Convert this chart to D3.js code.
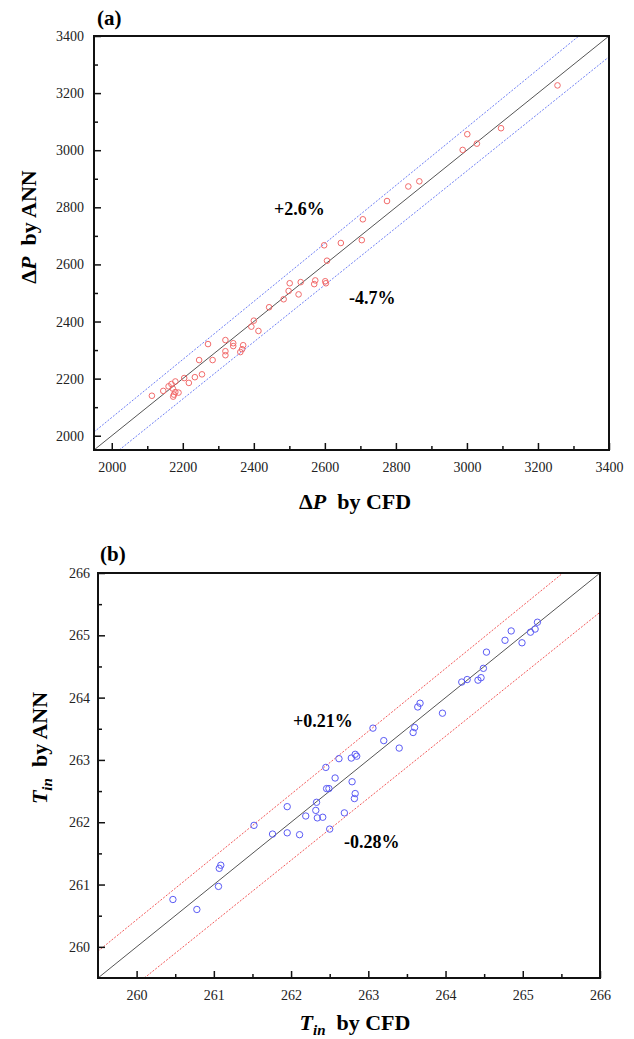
<!DOCTYPE html>
<html><head><meta charset="utf-8">
<script src="https://cdn.jsdelivr.net/npm/d3@7"></script>
<style>
body{margin:0;background:#fff;}
svg{display:block;}
</style></head>
<body>
<svg id="chart" width="634" height="1039"></svg>
<script>
// ---------- Panel (a): pressure drop ----------
const aCFD = [2113,2145,2160,2168,2179,2172,2179,2173,2175,2188,2204,2217,2234,2254,2246,2271,2284,2320,2320,2320,2342,2342,2370,2367,2362,2393,2400,2413,2443,2484,2498,2501,2526,2532,2570,2573,2601,2603,2598,2606,2645,2704,2707,2775,2835,2866,2988,3001,3028,3096,3255];
const aANN = [2140,2157,2173,2181,2190,2165,2153,2137,2144,2151,2202,2185,2205,2215,2265,2321,2265,2335,2296,2282,2324,2314,2317,2303,2293,2382,2403,2367,2450,2478,2507,2534,2495,2538,2531,2544,2541,2534,2667,2613,2675,2685,2758,2822,2873,2891,3001,3056,3023,3077,3227];
const aDomain = [1950, 3400];
const aMajor = [2000,2200,2400,2600,2800,3000,3200,3400];
const aMinor = [2100,2300,2500,2700,2900,3100,3300];
const aUpperX = [1950, 3315], aUpperY = [2013, 3400];
const aLowerX = [2021, 3400], aLowerY = [1950, 3327];
const aDiagX = [1950, 3400], aDiagY = [1950, 3400];

// ---------- Panel (b): inlet temperature ----------
const bCFD = [260.47,260.78,261.06,261.07,261.09,261.52,261.76,261.95,261.95,262.11,262.19,262.32,262.33,262.34,262.41,262.46,262.49,262.45,262.50,262.57,262.62,262.69,262.78,262.79,262.82,262.83,262.83,262.85,263.06,263.20,263.40,263.58,263.60,263.64,263.67,263.96,264.21,264.28,264.42,264.46,264.49,264.53,264.77,264.85,264.99,265.10,265.16,265.19];
const bANN = [260.76,260.60,260.97,261.26,261.31,261.95,261.81,261.83,262.25,261.80,262.10,262.19,262.32,262.07,262.08,262.54,262.54,262.88,261.89,262.71,263.02,262.15,263.03,262.65,262.38,262.46,263.09,263.06,263.51,263.31,263.19,263.44,263.52,263.85,263.91,263.75,264.25,264.29,264.28,264.32,264.47,264.73,264.92,265.07,264.88,265.05,265.10,265.21];
const bDomain = [259.5, 266];
const bMajor = [260,261,262,263,264,265,266];
const bMinor = [260.5,261.5,262.5,263.5,264.5,265.5];
const bUpperX = [259.5, 265.52], bUpperY = [259.93, 266];
const bLowerX = [260.1, 266], bLowerY = [259.5, 265.37];
const bDiagX = [259.5, 266], bDiagY = [259.5, 266];

const FONT = "Liberation Serif, Times New Roman, Times, serif";
const svg = d3.select("#chart");
svg.append("rect").attr("width",634).attr("height",1039).attr("fill","#fff");

function panel(o){
  const g = svg.append("g").attr("font-family", FONT);
  const x = d3.scaleLinear().domain(o.domain).range([o.left, o.right]);
  const y = d3.scaleLinear().domain(o.domain).range([o.bottom, o.top]);
  const line = d3.line().x(d=>x(d[0])).y(d=>y(d[1]));
  const zipL = (xs, ys) => xs.map((v,i)=>[v, ys[i]]);

  g.append("path").attr("d", line(zipL(o.diagX,o.diagY)))
    .attr("fill","none").attr("stroke","#555").attr("stroke-width",1);
  [[o.upX,o.upY],[o.loX,o.loY]].forEach(([xs,ys])=>{
    g.append("path").attr("d", line(zipL(xs,ys)))
      .attr("fill","none").attr("stroke",o.bandColor).attr("stroke-width",1)
      .attr("stroke-dasharray","2,1.5");
  });

  g.selectAll("circle.pt").data(o.xs.map((v,i)=>[v,o.ys[i]])).enter()
    .append("circle").attr("class","pt")
    .attr("cx",d=>x(d[0])).attr("cy",d=>y(d[1])).attr("r",o.r)
    .attr("fill","none").attr("stroke",o.ptColor).attr("stroke-width",1);

  const xa = g.append("g").attr("transform",`translate(0,${o.bottom})`)
    .call(d3.axisBottom(x).tickValues(o.major).tickSize(-7).tickPadding(o.xPad).tickFormat(d3.format("d")));
  const xm = g.append("g").attr("transform",`translate(0,${o.bottom})`)
    .call(d3.axisBottom(x).tickValues(o.minor).tickSize(-4).tickFormat(""));
  const ya = g.append("g").attr("transform",`translate(${o.left},0)`)
    .call(d3.axisLeft(y).tickValues(o.major).tickSize(-7).tickPadding(o.yPad).tickFormat(d3.format("d")));
  const ym = g.append("g").attr("transform",`translate(${o.left},0)`)
    .call(d3.axisLeft(y).tickValues(o.minor).tickSize(-4).tickFormat(""));
  [xa,xm,ya,ym].forEach(a=>{
    a.attr("font-family", FONT).attr("font-size",14);
    a.select(".domain").remove();
    a.selectAll("line").attr("stroke","#111").attr("stroke-width",1.5);
    a.selectAll("text").attr("font-family",FONT).attr("font-size",14).attr("fill","#222");
  });

  g.append("rect").attr("x",o.left).attr("y",o.top)
    .attr("width",o.right-o.left).attr("height",o.bottom-o.top)
    .attr("fill","none").attr("stroke","#111").attr("stroke-width",2);

  g.append("text").attr("x",o.letterX).attr("y",o.letterY).attr("font-family",FONT)
    .attr("font-size",21).attr("font-weight","bold").text(o.letter);

  o.notes.forEach(n=>{
    g.append("text").attr("x",n.x).attr("y",n.y).attr("font-size",18).attr("font-family",FONT)
      .attr("font-weight","bold").text(n.t);
  });

  const xt = g.append("text").attr("x",o.xTitleX).attr("y",o.xTitleY).attr("font-family",FONT)
    .attr("text-anchor","middle").attr("font-size",22).attr("font-weight","bold");
  o.titleParts(xt, "CFD");
  const yt = g.append("text").attr("font-family",FONT)
    .attr("transform",`translate(${o.yTitleX},${o.yTitleY}) rotate(-90)`)
    .attr("text-anchor","middle").attr("font-size",22).attr("font-weight","bold");
  o.titleParts(yt, "ANN");
}

function dpTitle(t, who){
  t.append("tspan").text("Δ");
  t.append("tspan").attr("font-style","italic").text("P");
  t.append("tspan").text("\u00a0 by " + who);
}
function tTitle(t, who){
  t.append("tspan").attr("font-style","italic").text("T");
  t.append("tspan").attr("font-style","italic").attr("font-size",15).attr("dy",5).text("in");
  t.append("tspan").attr("dy",-5).text("\u00a0 by " + who);
}

panel({
  domain:aDomain, left:94, right:609, top:36, bottom:450,
  xs:aCFD, ys:aANN, r:2.8, ptColor:"#f26b6b", bandColor:"#6f7ff5",
  diagX:aDiagX, diagY:aDiagY, upX:aUpperX, upY:aUpperY, loX:aLowerX, loY:aLowerY,
  major:aMajor, minor:aMinor, xPad:12, yPad:10,
  letter:"(a)", letterX:97, letterY:25,
  notes:[{x:274,y:215,t:"+2.6%"},{x:349,y:304,t:"-4.7%"}],
  xTitleX:355, xTitleY:509, yTitleX:36, yTitleY:227, titleParts:dpTitle
});

panel({
  domain:bDomain, left:98, right:600, top:573, bottom:978,
  xs:bCFD, ys:bANN, r:3.2, ptColor:"#5b5bf5", bandColor:"#f35a5a",
  diagX:bDiagX, diagY:bDiagY, upX:bUpperX, upY:bUpperY, loX:bLowerX, loY:bLowerY,
  major:bMajor, minor:bMinor, xPad:12, yPad:8,
  letter:"(b)", letterX:100, letterY:561,
  notes:[{x:293,y:727,t:"+0.21%"},{x:344,y:848,t:"-0.28%"}],
  xTitleX:355, xTitleY:1030, yTitleX:47, yTitleY:748, titleParts:tTitle
});
</script>
</body></html>
